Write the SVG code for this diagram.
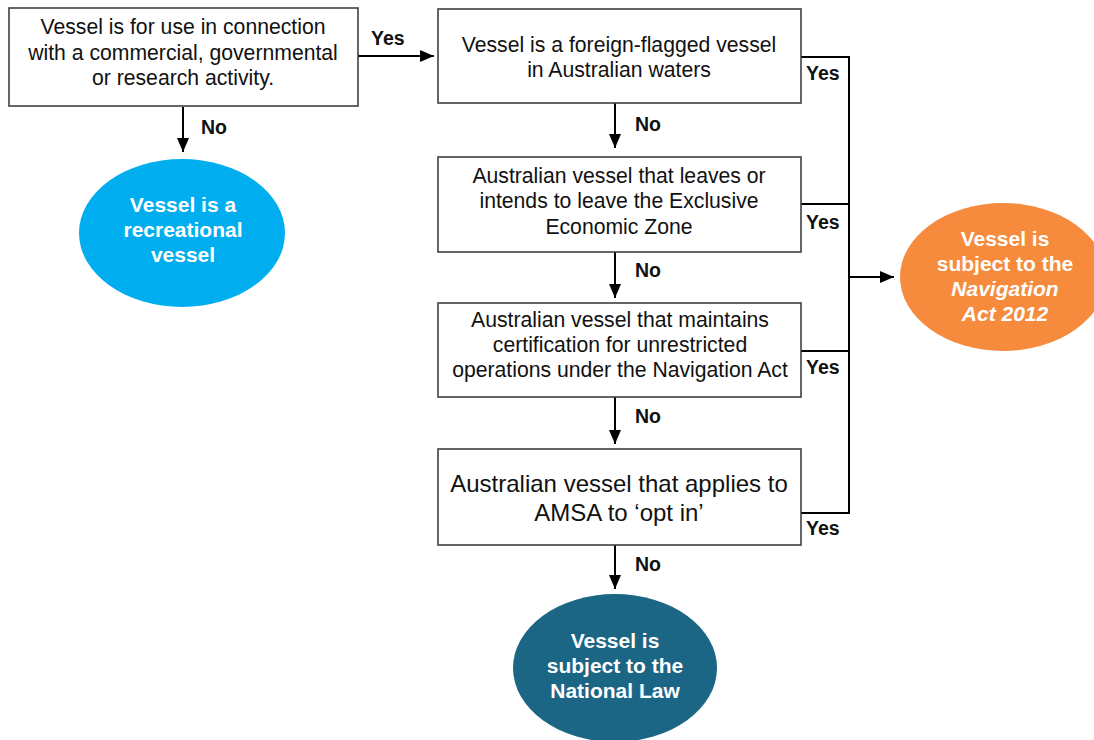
<svg xmlns="http://www.w3.org/2000/svg" width="1094" height="740" viewBox="0 0 1094 740">
<style>
.box{fill:#fff;stroke:#404040;stroke-width:1.6}
.t{font-family:"Liberation Sans",Arial,sans-serif;font-size:21.2px;fill:#111;text-anchor:middle}
.t5{font-size:24px}
.lbl{font-family:"Liberation Sans",Arial,sans-serif;font-size:19.5px;font-weight:bold;fill:#111}
.et{font-family:"Liberation Sans",Arial,sans-serif;font-size:21px;font-weight:bold;fill:#fff;text-anchor:middle}
.c{fill:none;stroke:#000;stroke-width:2}
.a{marker-end:url(#ah)}
</style>
<defs>
<marker id="ah" markerUnits="userSpaceOnUse" markerWidth="14" markerHeight="12" refX="14" refY="6" orient="auto">
<path d="M0,0 L14,6 L0,12 z" fill="#000"/>
</marker>
</defs>
<rect width="1094" height="740" fill="#fff"/>

<g id="connectors">
<line class="c a" x1="358" y1="56" x2="434" y2="56"/>
<line class="c a" x1="183" y1="107" x2="183" y2="152"/>
<line class="c a" x1="615" y1="103" x2="615" y2="148"/>
<line class="c a" x1="615" y1="252" x2="615" y2="298"/>
<line class="c a" x1="615" y1="397" x2="615" y2="444"/>
<line class="c a" x1="615" y1="545" x2="615" y2="589"/>
<polyline class="c" points="801,57 849,57 849,513 801,513"/>
<line class="c" x1="801" y1="204" x2="849" y2="204"/>
<line class="c" x1="801" y1="351" x2="849" y2="351"/>
<line class="c a" x1="849" y1="277" x2="894" y2="277"/>
<text class="lbl" x="371" y="45">Yes</text>
<text class="lbl" x="201" y="134">No</text>
<text class="lbl" x="635" y="131">No</text>
<text class="lbl" x="635" y="277">No</text>
<text class="lbl" x="635" y="423">No</text>
<text class="lbl" x="635" y="571">No</text>
<text class="lbl" x="806" y="80">Yes</text>
<text class="lbl" x="806" y="229">Yes</text>
<text class="lbl" x="806" y="374">Yes</text>
<text class="lbl" x="806" y="535">Yes</text>
</g>

<g id="box1">
<rect class="box" x="9" y="8" width="349" height="98"/>
<text class="t" x="183" y="34">Vessel is for use in connection</text>
<text class="t" x="183" y="59.5">with a commercial, governmental</text>
<text class="t" x="183" y="85">or research activity.</text>
</g>

<g id="box2">
<rect class="box" x="438" y="9" width="363" height="94"/>
<text class="t" x="619" y="52">Vessel is a foreign-flagged vessel</text>
<text class="t" x="619" y="77">in Australian waters</text>
</g>

<g id="box3">
<rect class="box" x="438" y="157" width="363" height="95"/>
<text class="t" x="619" y="182.5">Australian vessel that leaves or</text>
<text class="t" x="619" y="208">intends to leave the Exclusive</text>
<text class="t" x="619" y="233.5">Economic Zone</text>
</g>

<g id="box4">
<rect class="box" x="438" y="303" width="363" height="94"/>
<text class="t" x="620" y="327">Australian vessel that maintains</text>
<text class="t" x="620" y="352">certification for unrestricted</text>
<text class="t" x="620" y="377">operations under the Navigation Act</text>
</g>

<g id="box5">
<rect class="box" x="438" y="449" width="363" height="96"/>
<text class="t t5" x="619" y="492">Australian vessel that applies to</text>
<text class="t t5" x="619" y="521">AMSA to ‘opt in’</text>
</g>

<g id="recreational">
<ellipse cx="182" cy="233" rx="103" ry="74" fill="#00AEEF"/>
<text class="et" x="183" y="212">Vessel is a</text>
<text class="et" x="183" y="237">recreational</text>
<text class="et" x="183" y="262">vessel</text>
</g>

<g id="navigation">
<ellipse cx="1003" cy="277" rx="103" ry="74" fill="#F68B3E"/>
<text class="et" x="1005" y="246">Vessel is</text>
<text class="et" x="1005" y="271">subject to the</text>
<text class="et" x="1005" y="296" font-style="italic">Navigation</text>
<text class="et" x="1005" y="321" font-style="italic">Act 2012</text>
</g>

<g id="national">
<ellipse cx="615" cy="668" rx="102" ry="74" fill="#1B6585"/>
<text class="et" x="615" y="648">Vessel is</text>
<text class="et" x="615" y="673">subject to the</text>
<text class="et" x="615" y="698">National Law</text>
</g>
</svg>
